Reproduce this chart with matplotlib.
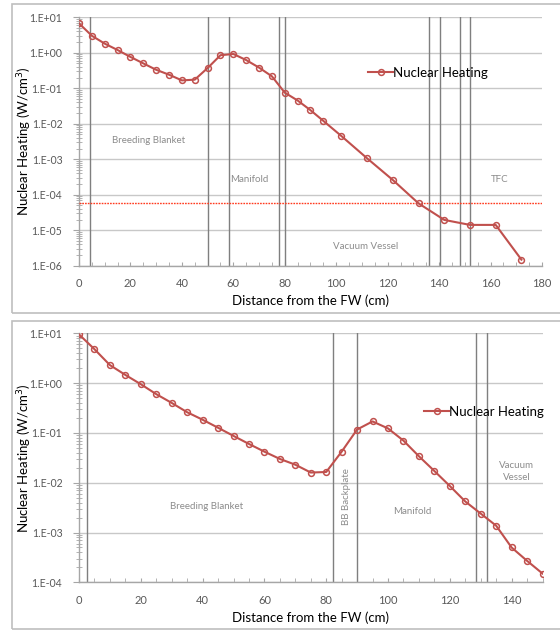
import math
import matplotlib
matplotlib.use("Agg")
import matplotlib.pyplot as plt
from matplotlib.patches import Rectangle
from matplotlib.ticker import FixedLocator, FuncFormatter, LogLocator, MultipleLocator

plt.rcParams["font.family"] = ["Lato", "DejaVu Sans"]

# Radial profile through the first build (top panel)
dist_top = [0, 5, 10, 15, 20, 25, 30, 35, 40, 45, 50, 55, 60, 65, 70, 75,
            80, 85, 90, 95, 102, 112, 122, 132, 142, 152, 162, 172]
heat_top = [6.7, 3.0, 1.8, 1.19, 0.76, 0.50, 0.33, 0.24, 0.166, 0.174, 0.37,
            0.85, 0.92, 0.62, 0.38, 0.216, 0.075, 0.045, 0.024, 0.012, 0.0045,
            0.00106, 0.00026, 5.7e-05, 1.95e-05, 1.41e-05, 1.41e-05, 1.48e-06]
bounds_top = [4.3, 50, 58.3, 77.6, 79.9, 136, 140.2, 148.1, 152]
limit_top = 6.0e-05
regions_top = ["Breeding Blanket", "Manifold", "Vacuum Vessel", "TFC"]

# Radial profile through the second build (bottom panel)
dist_bot = list(range(0, 151, 5))
heat_bot = [9.5, 4.8, 2.3, 1.46, 0.95, 0.60, 0.40, 0.26, 0.184, 0.127, 0.087,
            0.060, 0.042, 0.030, 0.023, 0.016, 0.0164, 0.042, 0.117, 0.17,
            0.123, 0.070, 0.034, 0.0172, 0.0086, 0.0042, 0.0024, 0.00137,
            0.0005, 0.00027, 0.00015]
bounds_bot = [2.5, 82.3, 90.1, 128.4, 132.2]
regions_bot = ["Breeding Blanket", "BB Backplate", "Manifold", "Vacuum\nVessel"]

series_name = "Nuclear Heating"
xlabel = "Distance from the FW (cm)"
ylabel = "Nuclear Heating (W/cm$^3$)"

LINE = "#c0504d"
GRID = "#c8c8c8"
TICK = "#595959"
BOUND = "#7f7f7f"
REGION = "#8c8c8c"

W, H = 560, 630
fig = plt.figure(figsize=(W / 100, H / 100), dpi=100)

# chart-area frames
for y0, y1 in [(4, 313), (321, 629)]:
    fig.patches.append(Rectangle((12 / W, 1 - y1 / H), 1.0, (y1 - y0) / H,
                                 transform=fig.transFigure, fill=False,
                                 edgecolor="#bfbfbf", linewidth=1.2))


def dec_label(v, pos):
    e = int(round(math.log10(v)))
    return f"1.E{e:+03d}"


def style(ax, xmax, ymin, ymax):
    ax.set_yscale("log")
    ax.set_xlim(0, xmax)
    ax.set_ylim(ymin, ymax)
    decades = [10.0 ** k for k in range(int(round(math.log10(ymin))),
                                         int(round(math.log10(ymax))) + 1)]
    ax.yaxis.set_major_locator(FixedLocator(decades))
    ax.yaxis.set_major_formatter(FuncFormatter(dec_label))
    ax.yaxis.set_minor_locator(LogLocator(base=10, subs=range(2, 10), numticks=20))
    ax.xaxis.set_major_locator(MultipleLocator(20))
    ax.xaxis.set_minor_locator(MultipleLocator(5))
    ax.grid(True, which="major", axis="y", color=GRID, linewidth=1.0)
    ax.set_axisbelow(True)
    for s in ["top", "right"]:
        ax.spines[s].set_visible(False)
    for s in ["left", "bottom"]:
        ax.spines[s].set_color("#a6a6a6")
        ax.spines[s].set_linewidth(1.0)
    ax.tick_params(axis="y", which="major", direction="out", length=4,
                   color="#a6a6a6", labelcolor=TICK, labelsize=7.6, pad=8)
    ax.tick_params(axis="y", which="minor", direction="inout", length=4,
                   color="#a6a6a6")
    ax.tick_params(axis="x", which="both", direction="in", length=3,
                   color="#a6a6a6", labelcolor=TICK, labelsize=8, pad=9)
    ax.set_xlabel(xlabel, fontsize=9.5, labelpad=4)
    ax.set_ylabel(ylabel, fontsize=9.5)
    ax.yaxis.set_label_coords(-45 / 463, 0.5)


def series(ax, x, y):
    return ax.plot(x, y, color=LINE, linewidth=1.5, marker="o", markersize=4.2,
                   markerfacecolor="none", markeredgecolor=LINE,
                   markeredgewidth=1.1, label=series_name, zorder=4)


# ---- top panel
ax1 = fig.add_axes([79 / W, 1 - 265.7 / H, (542 - 79) / W, (265.7 - 17.2) / H])
style(ax1, 180, 1e-6, 10)
for b in bounds_top:
    ax1.axvline(b, color=BOUND, linewidth=1.0, zorder=2)
ax1.axhline(limit_top, color="#ff3b1f", linewidth=1.0, linestyle=(0, (1.2, 0.8)),
            zorder=3)
series(ax1, dist_top, heat_top)
ax1.text(27, 3.4e-3, regions_top[0], color=REGION, fontsize=7, ha="center", va="center")
ax1.text(66.3, 2.6e-4, regions_top[1], color=REGION, fontsize=7, ha="center", va="center")
ax1.text(111.3, 3.5e-6, regions_top[2], color=REGION, fontsize=7, ha="center", va="center")
ax1.text(163.5, 2.6e-4, regions_top[3], color=REGION, fontsize=7, ha="center", va="center")
ax1.legend(loc="center left", bbox_to_anchor=((368 - 79) / (542 - 79), 0.775),
           frameon=False, fontsize=9.5, handlelength=1.9, handletextpad=0.0,
           borderaxespad=0, borderpad=0)

# ---- bottom panel
ax2 = fig.add_axes([79 / W, 1 - 582.3 / H, (542.5 - 79) / W, (582.3 - 333.3) / H])
style(ax2, 150, 1e-4, 10)
for b in bounds_bot:
    ax2.axvline(b, color=BOUND, linewidth=1.0, zorder=2)
series(ax2, dist_bot, heat_bot)
ax2.text(41.3, 3.3e-3, regions_bot[0], color=REGION, fontsize=7, ha="center", va="center")
ax2.text(86.5, 5.2e-3, regions_bot[1], color=REGION, fontsize=7, ha="center",
         va="center", rotation=90)
ax2.text(107.8, 2.7e-3, regions_bot[2], color=REGION, fontsize=7, ha="center", va="center")
ax2.text(141.6, 0.017, regions_bot[3], color=REGION, fontsize=7, ha="center",
         va="center", linespacing=1.4)
ax2.legend(loc="center left", bbox_to_anchor=((424 - 79) / (542.5 - 79), 0.684),
           frameon=False, fontsize=9.5, handlelength=1.9, handletextpad=0.0,
           borderaxespad=0, borderpad=0)

fig.savefig("out.png", dpi=100)
